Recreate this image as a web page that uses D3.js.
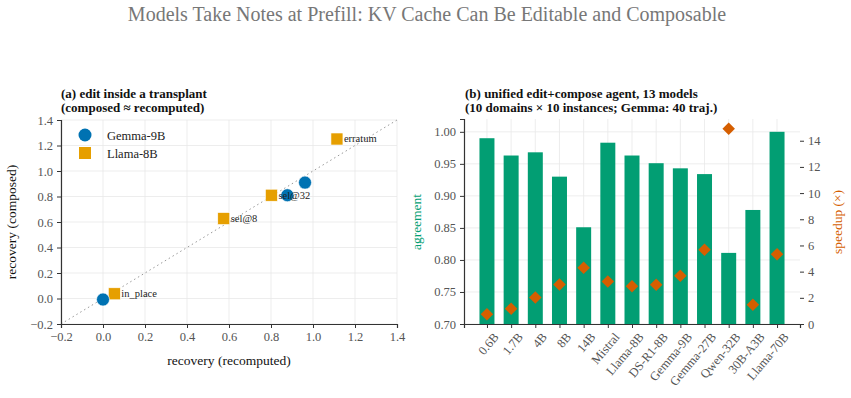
<!DOCTYPE html>
<html><head><meta charset="utf-8">
<script src="https://cdn.jsdelivr.net/npm/d3@7"></script>
<style>body{margin:0;background:#fff}svg{display:block}svg text{font-family:"Liberation Serif","Times New Roman","DejaVu Serif",serif !important}</style>
</head><body><svg id="c" width="851" height="398"></svg>
<script>
// ---- data ----
const gemmaX = [0.0, 0.878, 0.962];
const gemmaY = [-0.008, 0.81, 0.909];
const llamaX = [0.054, 0.575, 0.802, 1.114];
const llamaY = [0.037, 0.627, 0.81, 1.251];
const llamaLabels = ["in_place", "sel@8", "sel@32", "erratum"];
const scatterTicks = [-0.2, 0.0, 0.2, 0.4, 0.6, 0.8, 1.0, 1.2, 1.4];

const models = ["0.6B","1.7B","4B","8B","14B","Mistral","Llama-8B","DS-R1-8B","Gemma-9B","Gemma-27B","Qwen-32B","30B-A3B","Llama-70B"];
const agreement = [0.990, 0.963, 0.968, 0.930, 0.851, 0.983, 0.963, 0.951, 0.943, 0.934, 0.811, 0.878, 1.000];
const speedup = [0.74, 1.17, 2.03, 3.02, 4.29, 3.25, 2.89, 2.99, 3.68, 5.68, 14.91, 1.47, 5.33];
const agreeTicks = [0.70, 0.75, 0.80, 0.85, 0.90, 0.95, 1.00];
const speedTicks = [0, 2, 4, 6, 8, 10, 12, 14];

const GREEN = "#029E73", ORANGE = "#D55E00", BLUE = "#0072B2", GOLD = "#E69F00";
const svg = d3.select("#c");
const tickCol = "#555", axCol = "#333", gridCol = "#e8e8e8";

svg.append("text").attr("x", 427).attr("y", 21).attr("text-anchor", "middle")
  .attr("font-size", 20).attr("fill", "#777")
  .text("Models Take Notes at Prefill: KV Cache Can Be Editable and Composable");

function styleAxis(g){
  g.selectAll(".domain").attr("stroke", axCol).attr("stroke-width", 1.2);
  g.selectAll(".tick line").attr("stroke", axCol);
  g.selectAll(".tick text").attr("fill", tickCol).attr("font-size", 12.5);
}

// ---- panel (a) ----
const ax = d3.scaleLinear().domain([-0.2, 1.4]).range([61, 397]);
const ay = d3.scaleLinear().domain([-0.2, 1.4]).range([324, 120]);
const pa = svg.append("g");
pa.append("g").selectAll("line.gx").data(scatterTicks).join("line")
  .attr("x1", d => ax(d)).attr("x2", d => ax(d)).attr("y1", ay(-0.2)).attr("y2", ay(1.4))
  .attr("stroke", gridCol).attr("stroke-width", 0.8);
pa.append("g").selectAll("line.gy").data(scatterTicks).join("line")
  .attr("y1", d => ay(d)).attr("y2", d => ay(d)).attr("x1", ax(-0.2)).attr("x2", ax(1.4))
  .attr("stroke", gridCol).attr("stroke-width", 0.8);
pa.append("line").attr("x1", ax(-0.2)).attr("y1", ay(-0.2)).attr("x2", ax(1.4)).attr("y2", ay(1.4))
  .attr("stroke", "#999").attr("stroke-width", 1).attr("stroke-dasharray", "1.5,3");
const fmt1 = d => d < 0 ? "\u2212" + Math.abs(d).toFixed(1) : d.toFixed(1);
pa.append("g").attr("transform", `translate(0,${ay(-0.2)})`)
  .call(d3.axisBottom(ax).tickValues(scatterTicks).tickFormat(fmt1).tickSize(4).tickPadding(4)).call(styleAxis);
pa.append("g").attr("transform", `translate(${ax(-0.2)},0)`)
  .call(d3.axisLeft(ay).tickValues(scatterTicks).tickFormat(fmt1).tickSize(4).tickPadding(4)).call(styleAxis);

pa.selectAll("rect.ll").data(llamaX).join("rect")
  .attr("x", d => ax(d) - 6).attr("y", (d, i) => ay(llamaY[i]) - 6).attr("width", 12).attr("height", 12)
  .attr("fill", GOLD).attr("stroke", "#fff").attr("stroke-width", 0.6);
pa.selectAll("circle.gm").data(gemmaX).join("circle")
  .attr("cx", d => ax(d)).attr("cy", (d, i) => ay(gemmaY[i])).attr("r", 6.5)
  .attr("fill", BLUE).attr("stroke", "#fff").attr("stroke-width", 0.6);
pa.selectAll("text.lab").data(llamaLabels).join("text")
  .attr("x", (d, i) => ax(llamaX[i]) + 7).attr("y", (d, i) => ay(llamaY[i]) + 3.5)
  .attr("font-size", 10.5).attr("fill", "#222").text(d => d);

// legend
pa.append("circle").attr("cx", 85).attr("cy", 135).attr("r", 6.5).attr("fill", BLUE);
pa.append("rect").attr("x", 79).attr("y", 147).attr("width", 12).attr("height", 12).attr("fill", GOLD);
pa.append("text").attr("x", 107).attr("y", 139.5).attr("font-size", 12.5).attr("fill", "#222").text("Gemma-9B");
pa.append("text").attr("x", 107).attr("y", 157.5).attr("font-size", 12.5).attr("fill", "#222").text("Llama-8B");

pa.append("text").attr("x", 61).attr("y", 98).attr("font-size", 13).attr("font-weight", "bold").attr("fill", "#111")
  .text("(a) edit inside a transplant");
pa.append("text").attr("x", 61).attr("y", 112).attr("font-size", 13).attr("font-weight", "bold").attr("fill", "#111")
  .text("(composed \u2248 recomputed)");
pa.append("text").attr("x", 229).attr("y", 365).attr("text-anchor", "middle").attr("font-size", 13.5).attr("fill", "#111")
  .text("recovery (recomputed)");
pa.append("text").attr("transform", "translate(16,222) rotate(-90)").attr("text-anchor", "middle")
  .attr("font-size", 13.5).attr("fill", "#111").text("recovery (composed)");

// ---- panel (b) ----
const bx = d3.scaleLinear().domain([-0.95, 12.95]).range([464, 800]);
const by = d3.scaleLinear().domain([0.70, 1.02]).range([324, 119]);
const sy = d3.scaleLinear().domain([0, 15.66]).range([324, 119]);
const pb = svg.append("g");
pb.append("g").selectAll("line").data(models).join("line")
  .attr("x1", (d, i) => bx(i)).attr("x2", (d, i) => bx(i)).attr("y1", 119).attr("y2", 324)
  .attr("stroke", gridCol).attr("stroke-width", 0.8);
pb.append("g").selectAll("line").data(agreeTicks).join("line")
  .attr("y1", d => by(d)).attr("y2", d => by(d)).attr("x1", 464).attr("x2", 800)
  .attr("stroke", gridCol).attr("stroke-width", 0.8);
const bw = (bx(1) - bx(0)) * 0.62;
pb.selectAll("rect.bar").data(agreement).join("rect")
  .attr("x", (d, i) => bx(i) - bw / 2).attr("width", bw)
  .attr("y", d => by(d)).attr("height", d => by(0.70) - by(d)).attr("fill", GREEN);
pb.selectAll("path.dm").data(speedup).join("path")
  .attr("d", d3.symbol(d3.symbolDiamond2, 100))
  .attr("transform", (d, i) => `translate(${bx(i)},${sy(d)})`).attr("fill", ORANGE);

const gxb = pb.append("g").attr("transform", "translate(0,324)")
  .call(d3.axisBottom(bx).tickValues(d3.range(13)).tickFormat(i => models[i]).tickSize(4).tickPadding(3)).call(styleAxis);
gxb.selectAll(".tick text").attr("text-anchor", "end").attr("dx", "-0.1em").attr("dy", "0.35em")
  .attr("transform", "translate(4,5) rotate(-50)");
pb.append("g").attr("transform", "translate(464,0)")
  .call(d3.axisLeft(by).tickValues(agreeTicks).tickFormat(d3.format(".2f")).tickSize(4).tickPadding(4)).call(styleAxis);
const gr = pb.append("g").attr("transform", "translate(800,0)")
  .call(d3.axisRight(sy).tickValues(speedTicks).tickSize(4).tickPadding(4)).call(styleAxis);
gr.select(".domain").remove();

pb.append("text").attr("x", 465).attr("y", 98).attr("font-size", 13).attr("font-weight", "bold").attr("fill", "#111")
  .text("(b) unified edit+compose agent, 13 models");
pb.append("text").attr("x", 465).attr("y", 112).attr("font-size", 13).attr("font-weight", "bold").attr("fill", "#111")
  .text("(10 domains \u00d7 10 instances; Gemma: 40 traj.)");
pb.append("text").attr("transform", "translate(421,222) rotate(-90)").attr("text-anchor", "middle")
  .attr("font-size", 13.5).attr("fill", GREEN).text("agreement");
pb.append("text").attr("transform", "translate(842,222) rotate(-90)").attr("text-anchor", "middle")
  .attr("font-size", 13.5).attr("fill", ORANGE).text("speedup (\u00d7)");
</script></body></html>
